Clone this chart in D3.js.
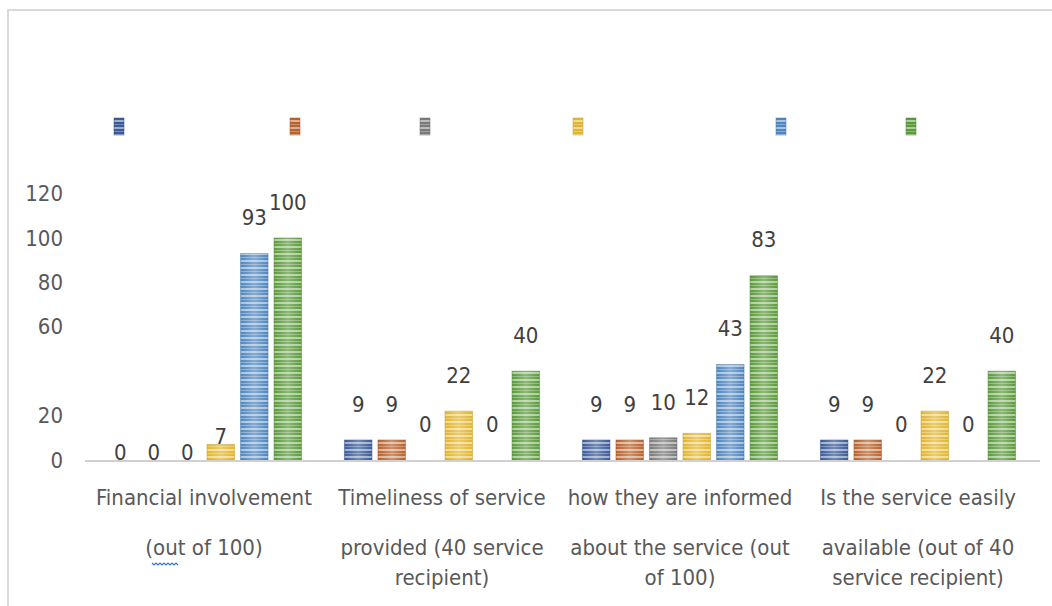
<!DOCTYPE html>
<html>
<head>
<meta charset="utf-8">
<script src="https://cdn.jsdelivr.net/npm/d3@7"></script>
<style>
  body { margin: 0; background: #fff; }
  text { font-family: "DejaVu Sans Condensed", "Liberation Sans Narrow", sans-serif; fill: #595959; }
</style>
</head>
<body>
<svg id="chart"></svg>
<script>
const width = 1052, height = 606;

// data
const categories = [
  ["Financial involvement", "(out of 100)"],
  ["Timeliness of service", "provided (40 service", "recipient)"],
  ["how they are informed", "about the service (out", "of 100)"],
  ["Is the service easily", "available (out of 40", "service recipient)"]
];
const series1 = [0, 9, 9, 9];
const series2 = [0, 9, 9, 9];
const series3 = [0, 0, 10, 0];
const series4 = [7, 22, 12, 22];
const series5 = [93, 0, 43, 0];
const series6 = [100, 40, 83, 40];
const seriesColors = ["#3a5a98", "#b8622c", "#7a7a7a", "#e2b52e", "#4f86bf", "#5b9a3b"];
const yTicks = [0, 20, 60, 80, 100, 120]; // the 40 label is hidden in the original

const allSeries = [series1, series2, series3, series4, series5, series6];

// legend has no text, only the little swatches
const legendX = [114, 290, 420, 573, 776, 906];

const svg = d3.select("#chart")
  .attr("width", width)
  .attr("height", height);

// faint frame of the chart area
svg.append("rect")
  .attr("x", 8).attr("y", 10)
  .attr("width", width + 10).attr("height", height + 10)
  .attr("fill", "none")
  .attr("stroke", "#d9d9d9")
  .attr("stroke-width", 2);

const defs = svg.append("defs");

// horizontal stripe textures, one per series
seriesColors.forEach(function(c, i) {
  const p = defs.append("pattern")
    .attr("id", "stripe" + i)
    .attr("patternUnits", "userSpaceOnUse")
    .attr("width", 8).attr("height", 7);
  p.append("rect").attr("width", 8).attr("height", 7).attr("fill", c);
  p.append("rect").attr("y", 1).attr("width", 8).attr("height", 2)
    .attr("fill", "#fff").attr("opacity", 0.5);
  p.append("rect").attr("y", 5).attr("width", 8).attr("height", 1)
    .attr("fill", "#fff").attr("opacity", 0.3);

  // soft light band in the middle of the bar
  const g = defs.append("linearGradient")
    .attr("id", "shade" + i)
    .attr("x1", 0).attr("x2", 1).attr("y1", 0).attr("y2", 0);
  g.append("stop").attr("offset", "0%").attr("stop-color", "#fff").attr("stop-opacity", 0);
  g.append("stop").attr("offset", "50%").attr("stop-color", "#fff").attr("stop-opacity", 0.3);
  g.append("stop").attr("offset", "100%").attr("stop-color", "#fff").attr("stop-opacity", 0);
});

const x0 = d3.scaleBand()
  .domain(d3.range(categories.length))
  .range([85, 1037]);

const x1 = d3.scaleBand()
  .domain(d3.range(allSeries.length))
  .range([0, x0.bandwidth()])
  .paddingInner(0.18)
  .paddingOuter(0.64);

const y = d3.scaleLinear()
  .domain([0, 100])
  .range([460, 238]);

// y axis labels only
const yAxis = svg.append("g")
  .attr("transform", "translate(63,0)")
  .call(d3.axisLeft(y).tickValues(yTicks).tickSize(0).tickPadding(0));
yAxis.select(".domain").remove();
yAxis.selectAll("text")
  .style("font-size", "22px")
  .style("fill", "#595959")
  .style("font-family", "\"DejaVu Sans Condensed\", \"Liberation Sans Narrow\", sans-serif");

// bars
const groups = svg.selectAll("g.cat")
  .data(categories)
  .enter()
    .append("g")
    .attr("class", "cat")
    .attr("transform", (d, i) => "translate(" + x0(i) + ",0)");

groups.each(function(d, ci) {
  const g = d3.select(this);
  allSeries.forEach(function(s, si) {
    const v = s[ci];
    if (v > 0) {
      g.append("rect")
        .attr("x", x1(si)).attr("y", y(v))
        .attr("width", x1.bandwidth()).attr("height", y(0) - y(v))
        .attr("fill", "url(#stripe" + si + ")")
        .attr("stroke", d3.color(seriesColors[si]).darker(0.4))
        .attr("stroke-opacity", 0.5)
        .attr("stroke-width", 1);
      g.append("rect")
        .attr("x", x1(si)).attr("y", y(v))
        .attr("width", x1.bandwidth()).attr("height", y(0) - y(v))
        .attr("fill", "url(#shade" + si + ")");
    }
    // first group's small labels sit close to the bars
    const off = (ci === 0 && v < 10) ? 8 : 36;
    g.append("text")
      .attr("x", x1(si) + x1.bandwidth() / 2)
      .attr("y", y(v) - off)
      .attr("dy", "0.35em")
      .attr("text-anchor", "middle")
      .style("font-size", "22px")
      .style("fill", "#404040")
      .text(v);
  });
});

// baseline
svg.append("line")
  .attr("x1", x0.range()[0]).attr("x2", x0.range()[1] + 3)
  .attr("y1", y(0) + 1).attr("y2", y(0) + 1)
  .attr("stroke", "#d0d0d0")
  .attr("stroke-width", 2);

// category labels
const lineY = [497, 547, 577];
groups.each(function(d, ci) {
  const g = d3.select(this);
  d.forEach(function(line, li) {
    g.append("text")
      .attr("x", x0.bandwidth() / 2)
      .attr("y", lineY[li])
      .attr("dy", "0.35em")
      .attr("text-anchor", "middle")
      .style("font-size", "22px")
      .text(line);
  });
});

// spell-check squiggle under "out"
const sq = d3.range(0, 28, 2).map((dx, k) => [152 + dx, 563 + (k % 2 ? 2 : 0)]);
svg.append("path")
  .attr("d", d3.line()(sq))
  .attr("fill", "none")
  .attr("stroke", "#3b6fd6")
  .attr("stroke-width", 1.2);

// legend swatches
svg.selectAll("rect.leg")
  .data(seriesColors)
  .enter()
    .append("rect")
    .attr("class", "leg")
    .attr("x", (d, i) => legendX[i])
    .attr("y", 118)
    .attr("width", 10).attr("height", 17)
    .attr("fill", (d, i) => "url(#stripe" + i + ")")
    .attr("stroke", d => d3.color(d).darker(0.3))
    .attr("stroke-opacity", 0.5);
</script>
</body>
</html>
